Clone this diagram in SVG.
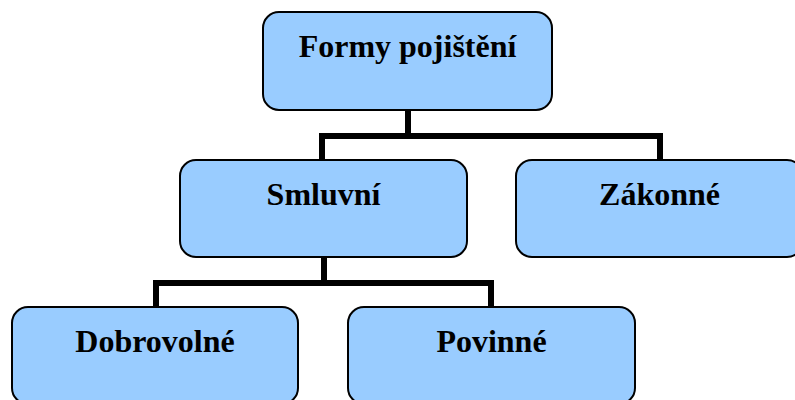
<svg xmlns="http://www.w3.org/2000/svg" width="795" height="400" viewBox="0 0 795 400">
<style>
.box{fill:#99ccff;stroke:#000;stroke-width:2}
.lbl{font-family:"Liberation Serif","Times New Roman",serif;font-weight:bold;font-size:32px;fill:#000;text-anchor:middle}
.conn{fill:none;stroke:#000;stroke-width:6;stroke-linejoin:miter;stroke-linecap:butt}
</style>
<rect width="795" height="400" fill="#fff"/>
<g id="connectors">
<path class="conn" d="M408 110 V136 M322 163 V136 H660 V163"/>
<path class="conn" d="M324 257 V283 M156 310 V283 H491 V310"/>
</g>
<g id="n-formy"><rect class="box" x="263" y="12" width="289" height="98" rx="16"/><text class="lbl" x="407.5" y="57">Formy pojištění</text></g>
<g id="n-smluvni"><rect class="box" x="180" y="160" width="287" height="97" rx="16"/><text class="lbl" x="323.5" y="205">Smluvní</text></g>
<g id="n-zakonne"><rect class="box" x="516" y="160" width="287" height="97" rx="16"/><text class="lbl" x="659.5" y="205">Zákonné</text></g>
<g id="n-dobrovolne"><rect class="box" x="12" y="307" width="286" height="97" rx="16"/><text class="lbl" x="155" y="352">Dobrovolné</text></g>
<g id="n-povinne"><rect class="box" x="348" y="307" width="287" height="97" rx="16"/><text class="lbl" x="491.5" y="352">Povinné</text></g>
</svg>
